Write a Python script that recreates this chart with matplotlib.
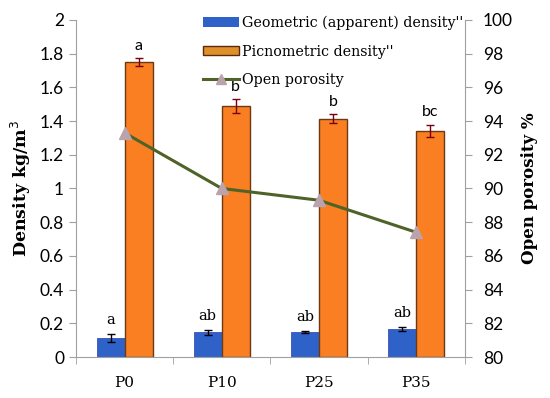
import matplotlib
matplotlib.use("Agg")
import matplotlib.pyplot as plt
import numpy as np
from matplotlib.patches import Patch
from matplotlib.lines import Line2D

categories = ["P0", "P10", "P25", "P35"]
geometric = [0.113, 0.146, 0.148, 0.166]
geometric_err = [0.022, 0.016, 0.004, 0.013]
picnometric = [1.75, 1.49, 1.415, 1.342]
picnometric_err = [0.022, 0.040, 0.025, 0.036]
porosity = [93.3, 90.0, 89.3, 87.4]
geo_letters = ["a", "ab", "ab", "ab"]
pic_letters = ["a", "b", "b", "bc"]

serif = "DejaVu Serif"
sans = "Lato"

fig = plt.figure(figsize=(5.5, 3.98), dpi=100)
ax = fig.add_axes([0.138, 0.103, 0.707, 0.847])
ax2 = ax.twinx()

x = np.arange(len(categories))
w = 0.288
blue = "#2f62c8"
orange = "#fa7f22"
ax.bar(x - w/2, geometric, w, color=blue, edgecolor="#3a4fb8", linewidth=0.6,
       yerr=geometric_err, error_kw=dict(ecolor="black", capsize=3, elinewidth=1, capthick=1), zorder=2)
ax.bar(x + w/2, picnometric, w, color=orange, edgecolor="#6b3a14", linewidth=1.0,
       yerr=picnometric_err, error_kw=dict(ecolor="#7a0010", capsize=3, elinewidth=1, capthick=1), zorder=2)

for i in range(len(categories)):
    ax.annotate(geo_letters[i], (x[i] - w/2, geometric[i] + geometric_err[i]),
                xytext=(0, 5), textcoords="offset points", ha="center", va="bottom",
                fontsize=10.5, family=serif)
    ax.annotate(pic_letters[i], (x[i] + w/2, picnometric[i] + picnometric_err[i]),
                xytext=(0, 4), textcoords="offset points", ha="center", va="bottom",
                fontsize=11.5, family=sans)

ax2.plot(x, porosity, color="#4f6228", linewidth=2.2, marker="^", markersize=8,
         markerfacecolor="#b9a3ad", markeredgecolor="#b9a3ad", zorder=3)

ax.set_xlim(-0.5, 3.5)
ax.set_ylim(0, 2)
ax2.set_ylim(80, 100)
ax.set_yticks(np.arange(0, 2.01, 0.2))
ax.set_yticklabels(["0", "0.2", "0.4", "0.6", "0.8", "1", "1.2", "1.4", "1.6", "1.8", "2"])
ax2.set_yticks(np.arange(80, 101, 2))
ax.set_xticks(x)
ax.set_xticklabels(categories, family=serif, fontsize=11)
ax.set_xticks(np.arange(-0.5, 3.6, 1), minor=True)
ax.tick_params(axis="x", which="major", length=0, pad=14)
ax.tick_params(axis="x", which="minor", length=5, color="#a0a0a0", direction="out")
for a in (ax, ax2):
    a.tick_params(axis="y", length=5, color="#a0a0a0", labelsize=12.5)
    for t in a.get_yticklabels():
        t.set_family(sans)
    for s in a.spines.values():
        s.set_color("#a0a0a0")
    a.spines["top"].set_visible(False)
ax2.tick_params(axis="y", pad=8)
ax.spines["right"].set_visible(False)
ax2.spines["left"].set_visible(False)
ax2.spines["bottom"].set_visible(False)

ax.set_ylabel("Density kg/m$^3$", family=serif, fontweight="bold", fontsize=12.5, labelpad=5)
ax2.set_ylabel("Open porosity %", family=serif, fontweight="bold", fontsize=12, labelpad=6)

handles = [Patch(facecolor=blue, edgecolor="none"),
           Patch(facecolor="#e0902a", edgecolor="#5a2a10", linewidth=1.0),
           Line2D([0], [0], color="#4f6228", linewidth=2.2, marker="^", markersize=7,
                  markerfacecolor="#b9a3ad", markeredgecolor="#b9a3ad")]
labels = ["Geometric (apparent) density''", "Picnometric density''", "Open porosity"]
leg = ax2.legend(handles, labels, loc="upper left", bbox_to_anchor=(0.3265, 1.012),
                 frameon=False, prop=dict(family=serif, size=10.3), handlelength=2.55,
                 handleheight=0.65, handletextpad=0.2, labelspacing=1.0,
                 borderaxespad=0, borderpad=0)

fig.savefig("out.png", dpi=100)
